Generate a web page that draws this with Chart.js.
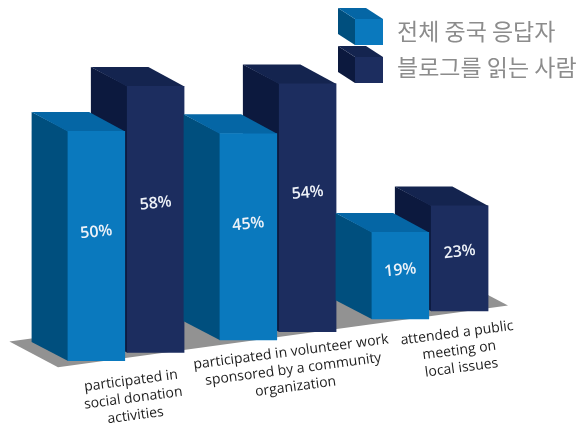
<!DOCTYPE html>
<html>
<head>
<meta charset="utf-8">
<script src="https://cdn.jsdelivr.net/npm/chart.js@4"></script>
<style>
  html, body { margin: 0; padding: 0; background: #fff; }
  #wrap { width: 577px; height: 434px; }
</style>
</head>
<body>
<div id="wrap"><canvas id="barChart"></canvas></div>
<script>
// Categories (multi-line labels) and the two series
const categories = [
    ['participated in', 'social donation', 'activities'],
    ['participated in volunteer work', 'sponsored by a community', 'organization'],
    ['attended a public', 'meeting on', 'local issues']
];
const allRespondents = [50, 45, 19];
const blogReaders = [58, 54, 23];
const seriesNames = ['전체 중국 응답자', '블로그를 읽는 사람'];

// Look of the fake 3D boxes
const SLOPE = 0.137;              // floor rises toward the right
const X_REF = 96;                 // x where the floor is not shifted
const DEPTH = { x: -36, y: -19 }; // how far the boxes go back
const faceColors = [
    { front: '#0a79be', side: '#004f7e', top: '#0566a5' },
    { front: '#1c2d5f', side: '#0c193e', top: '#14244f' }
];
// where each category label sits, relative to its tick
const labelOffsets = [[5, 24], [13, 16], [27, 18]];

function baseShift(x) {
    return -SLOPE * (x - X_REF);
}

function poly(ctx, pts, color) {
    ctx.fillStyle = color;
    ctx.beginPath();
    ctx.moveTo(pts[0][0], pts[0][1]);
    for (let i = 1; i < pts.length; i++) ctx.lineTo(pts[i][0], pts[i][1]);
    ctx.closePath();
    ctx.fill();
}

const box3d = {
    id: 'box3d',
    // grey floor under the bars
    beforeDatasetsDraw(chart) {
        const ctx = chart.ctx;
        const area = chart.chartArea;
        const x0 = area.left + 8, x1 = area.right + 2;
        const y0 = area.bottom + 1 + baseShift(x0);
        const y1 = area.bottom + 1 + baseShift(x1);
        const bx = DEPTH.x * 1.35, by = DEPTH.y * 1.35;
        poly(ctx, [[x0, y0], [x1, y1], [x1 + bx, y1 + by], [x0 + bx, y0 + by]], '#929292');
    },
    // side + top faces, then the library's own bar as the front face
    beforeDatasetDraw(chart, args) {
        const ctx = chart.ctx;
        const colors = faceColors[args.index];
        const values = chart.data.datasets[args.index].data;
        args.meta.data.forEach((bar, i) => {
            const p = bar.getProps(['x', 'y', 'base', 'width']);
            const left = p.x - p.width / 2;
            const right = p.x + p.width / 2;
            ctx.save();
            ctx.translate(0, baseShift(p.x));
            poly(ctx, [[left + 0.5, p.y], [left + DEPTH.x, p.y + DEPTH.y],
                       [left + DEPTH.x, p.base + DEPTH.y], [left + 0.5, p.base]], colors.side);
            poly(ctx, [[left, p.y + 0.5], [right, p.y + 0.5],
                       [right + DEPTH.x, p.y + DEPTH.y], [left + DEPTH.x, p.y + DEPTH.y]], colors.top);
            bar.draw(ctx);
            // value label on the front face
            const ly = p.y + (p.base - p.y) * 0.44;
            ctx.translate(p.x, ly);
            ctx.rotate(-6 * Math.PI / 180);
            ctx.fillStyle = '#eef2f8';
            ctx.font = '600 16px "Open Sans"';
            ctx.textAlign = 'center';
            ctx.textBaseline = 'middle';
            ctx.fillText(values[i] + '%', 0, 0);
            ctx.restore();
        });
        return false;
    },
    afterDraw(chart) {
        const ctx = chart.ctx;
        const xScale = chart.scales.x;
        const area = chart.chartArea;

        // category labels, tilted with the floor
        chart.data.labels.forEach((lines, i) => {
            const xc = xScale.getPixelForValue(i);
            const off = labelOffsets[i];
            ctx.save();
            ctx.translate(xc + off[0], area.bottom + baseShift(xc) + off[1]);
            ctx.rotate(-7.5 * Math.PI / 180);
            ctx.fillStyle = '#1e1e1e';
            ctx.font = '14px "Open Sans"';
            ctx.textAlign = 'center';
            ctx.textBaseline = 'middle';
            lines.forEach((line, j) => ctx.fillText(line, 0, j * 17.5));
            ctx.restore();
        });

        // legend with little cubes
        chart.data.datasets.forEach((ds, i) => {
            const c = faceColors[i];
            const fx = 355, fy = 19 + i * 38, w = 28, h = 26;
            const dx = -17, dy = -11;
            poly(ctx, [[fx, fy], [fx + dx, fy + dy], [fx + dx, fy + h + dy], [fx, fy + h]], c.side);
            poly(ctx, [[fx, fy], [fx + w, fy], [fx + w + dx, fy + dy], [fx + dx, fy + dy]], c.top);
            ctx.fillStyle = c.front;
            ctx.fillRect(fx, fy, w, h);
            ctx.fillStyle = '#8c8c8c';
            ctx.font = '23px "Noto Sans CJK KR"';
            ctx.textAlign = 'left';
            ctx.textBaseline = 'middle';
            ctx.fillText(ds.label, 397, 31 + i * 36);
        });
    }
};

const ctx = document.getElementById('barChart').getContext('2d');
window.myChart = new Chart(ctx, {
    type: 'bar',
    data: {
        labels: categories,
        datasets: [{
            label: seriesNames[0],
            data: allRespondents,
            backgroundColor: faceColors[0].front,
            borderWidth: 0
        }, {
            label: seriesNames[1],
            data: blogReaders,
            backgroundColor: faceColors[1].front,
            borderWidth: 0
        }]
    },
    options: {
        responsive: true,
        maintainAspectRatio: false,
        animation: false,
        layout: { padding: { top: 85, bottom: 73, left: 50, right: 71 } },
        datasets: {
            bar: { categoryPercentage: 0.78, barPercentage: 0.97 }
        },
        scales: {
            x: { display: false },
            y: { display: false, min: 0, max: 60 }
        },
        plugins: {
            legend: { display: false },
            tooltip: { enabled: false }
        }
    },
    plugins: [box3d]
});
</script>
</body>
</html>
